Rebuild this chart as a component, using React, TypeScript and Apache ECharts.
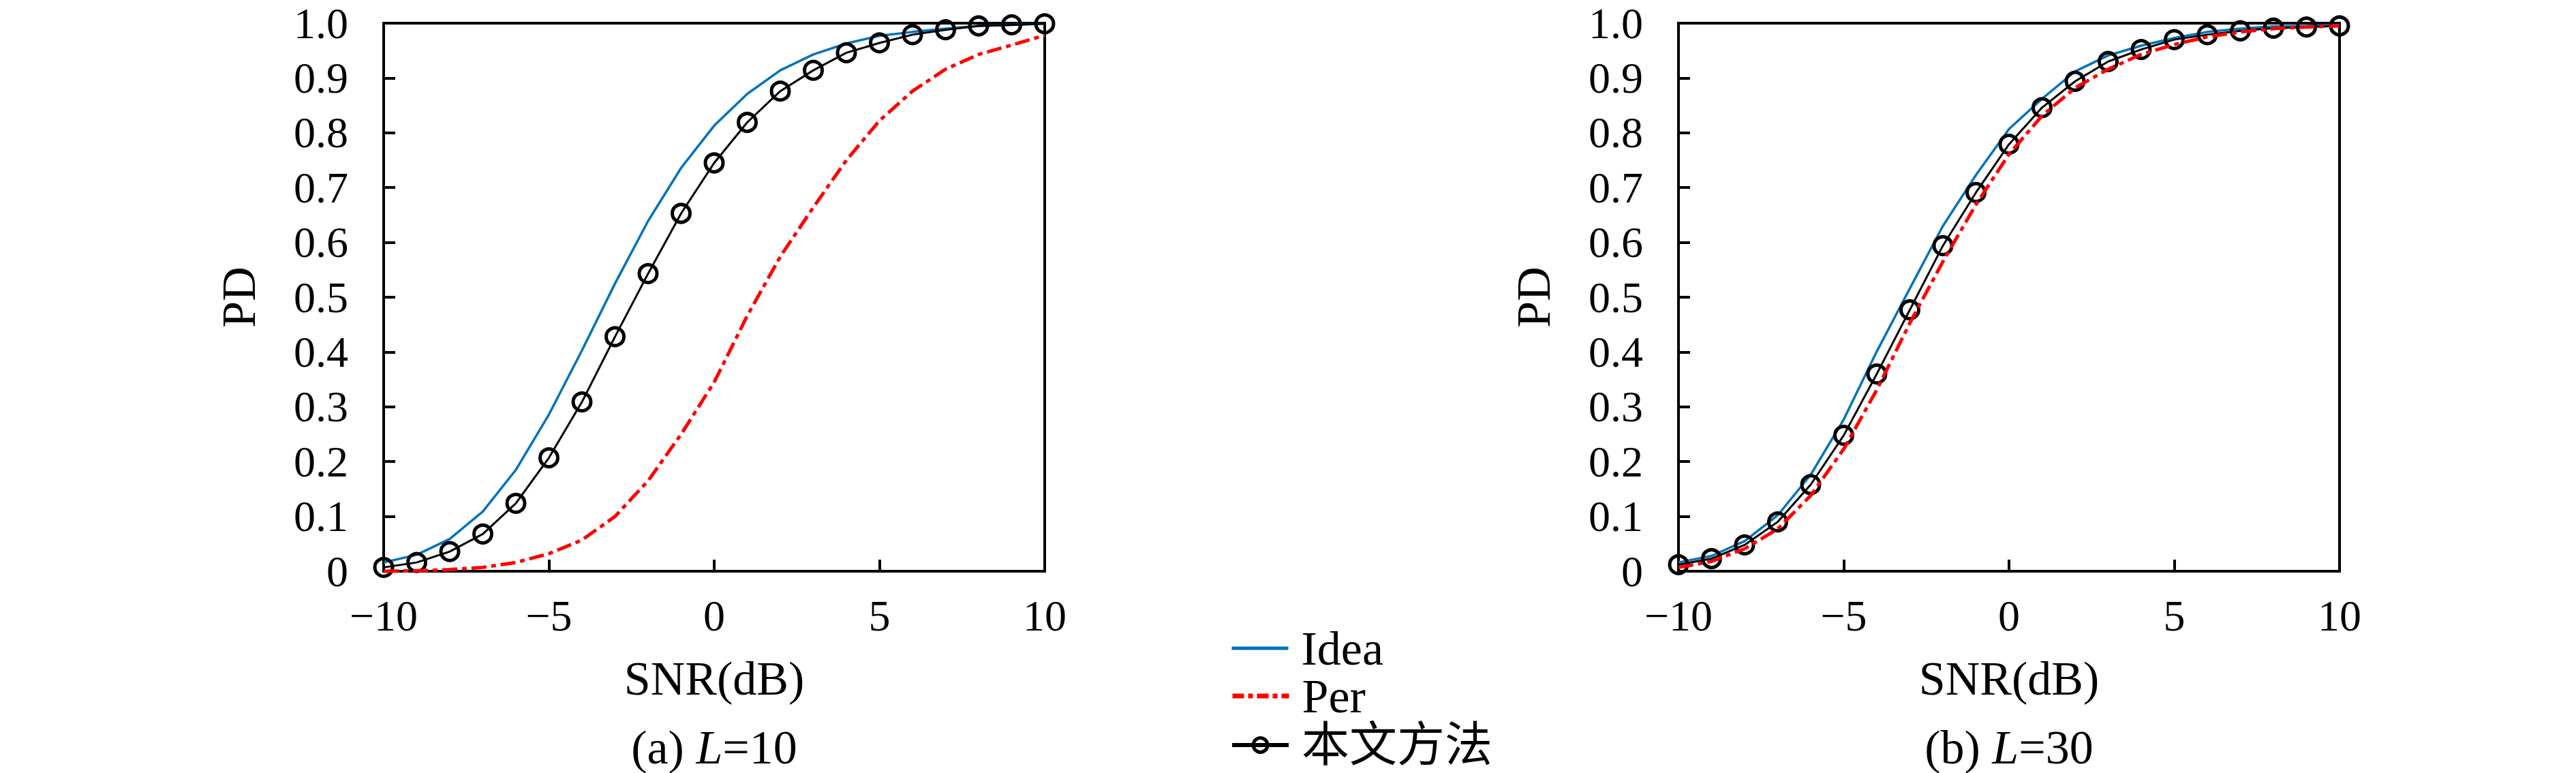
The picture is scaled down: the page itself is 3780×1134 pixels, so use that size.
import React, { useEffect, useRef } from "react";
import * as echarts from "echarts";

const snr = [-10, -9, -8, -7, -6, -5, -4, -3, -2, -1, 0, 1, 2, 3, 4, 5, 6, 7, 8, 9, 10];

const idea10 = [0.016, 0.030, 0.059, 0.109, 0.185, 0.286, 0.403, 0.525, 0.639, 0.736, 0.813, 0.871, 0.914, 0.943, 0.963, 0.977, 0.984, 0.990, 0.995, 0.997, 0.999];
const per10 = [0.000, 0.001, 0.003, 0.007, 0.016, 0.032, 0.057, 0.100, 0.165, 0.250, 0.345, 0.466, 0.574, 0.664, 0.750, 0.822, 0.876, 0.916, 0.943, 0.960, 0.978];
const ours10 = [0.007, 0.016, 0.036, 0.068, 0.124, 0.207, 0.309, 0.428, 0.543, 0.653, 0.745, 0.819, 0.876, 0.914, 0.946, 0.964, 0.979, 0.988, 0.995, 0.997, 0.999];

const idea30 = [0.016, 0.028, 0.055, 0.102, 0.176, 0.277, 0.401, 0.516, 0.630, 0.723, 0.807, 0.862, 0.912, 0.941, 0.959, 0.973, 0.984, 0.990, 0.994, 0.995, 0.997];
const per30 = [0.007, 0.018, 0.041, 0.077, 0.138, 0.223, 0.331, 0.453, 0.565, 0.669, 0.761, 0.831, 0.882, 0.916, 0.943, 0.961, 0.975, 0.984, 0.990, 0.993, 0.995];
const ours30 = [0.012, 0.023, 0.048, 0.090, 0.158, 0.248, 0.360, 0.477, 0.594, 0.691, 0.779, 0.846, 0.894, 0.930, 0.952, 0.970, 0.979, 0.986, 0.991, 0.993, 0.995];

const seriesNames = ["Idea", "Per", "本文方法"];
const captions = ["(a) {i|L}=10", "(b) {i|L}=30"];
const xTitle = "SNR(dB)";
const yTitle = "PD";

const FONT = "'Liberation Serif', 'Noto Sans CJK SC', serif";
const BLUE = "#0072BD";
const RED = "#FF0000";
const TICK_FS = 64;
const TEXT_FS = 70;
const CAP_FS = 70;

const pair = (ys: number[]) => snr.map((x, i) => [x, ys[i]]);

export default function App() {
  const ref = useRef<HTMLDivElement>(null);
  useEffect(() => {
    if (!ref.current) return;
    const chart = echarts.init(ref.current, undefined, { renderer: "svg" });
    const grids = [
      { left: 563, top: 34, width: 970, height: 804 },
      { left: 2463, top: 34, width: 970, height: 804 },
    ];
    const xAxes = grids.map((_, gi) => ({
      type: "value",
      gridIndex: gi,
      min: -10,
      max: 10,
      interval: 5,
      name: xTitle,
      nameLocation: "middle",
      nameGap: 122,
      nameTextStyle: { fontFamily: FONT, fontSize: TEXT_FS, color: "#000" },
      axisLine: { show: true, onZero: false, lineStyle: { color: "#000", width: 4 } },
      axisTick: { show: true, inside: true, length: 17, lineStyle: { color: "#000", width: 4 } },
      axisLabel: {
        fontFamily: FONT,
        fontSize: TICK_FS,
        color: "#000",
        margin: 33,
        formatter: (v: number) => (v < 0 ? "\u2212" + Math.abs(v) : String(v)),
      },
      splitLine: { show: false },
    }));
    const yAxes = grids.map((_, gi) => ({
      type: "value",
      gridIndex: gi,
      min: 0,
      max: 1,
      interval: 0.1,
      name: yTitle,
      nameLocation: "middle",
      nameGap: 178,
      nameRotate: 90,
      nameTextStyle: { fontFamily: FONT, fontSize: TEXT_FS, color: "#000" },
      axisLine: { show: true, onZero: false, lineStyle: { color: "#000", width: 4 } },
      axisTick: { show: true, inside: true, length: 17, lineStyle: { color: "#000", width: 4 } },
      axisLabel: {
        fontFamily: FONT,
        fontSize: TICK_FS,
        color: "#000",
        margin: 52,
        formatter: (v: number) => (Math.abs(v) < 1e-9 ? "0" : v.toFixed(1)),
      },
      splitLine: { show: false },
    }));

    const datasets = [
      { idea: idea10, per: per10, ours: ours10 },
      { idea: idea30, per: per30, ours: ours30 },
    ];
    const series: any[] = [];
    datasets.forEach((d, gi) => {
      series.push({
        name: seriesNames[0],
        type: "line",
        xAxisIndex: gi,
        yAxisIndex: gi,
        data: pair(d.idea),
        symbol: "none",
        clip: false,
        lineStyle: { color: BLUE, width: 3.5 },
        itemStyle: { color: BLUE },
        z: 2,
      });
      series.push({
        name: seriesNames[2],
        type: "line",
        xAxisIndex: gi,
        yAxisIndex: gi,
        data: pair(d.ours),
        symbol: "circle",
        symbolSize: 26,
        clip: false,
        lineStyle: { color: "#000", width: 3 },
        itemStyle: { color: "rgba(255,255,255,0)", borderColor: "#000", borderWidth: 5 },
        z: 3,
      });
      series.push({
        name: seriesNames[1],
        type: "line",
        xAxisIndex: gi,
        yAxisIndex: gi,
        data: pair(d.per),
        symbol: "none",
        clip: false,
        lineStyle: { color: RED, width: 5, type: [22, 7, 7, 7] },
        itemStyle: { color: RED },
        z: 4,
      });
    });

    const capStyle = (t: string) => ({
      text: t,
      font: CAP_FS + "px " + FONT,
      fill: "#000",
      align: "center",
      verticalAlign: "middle",
      rich: { i: { fontStyle: "italic", fontFamily: FONT, fontSize: CAP_FS } },
    });

    const legendItems = [
      { name: seriesNames[0], itemStyle: { color: "rgba(0,0,0,0)", borderWidth: 0 }, lineStyle: { color: BLUE, width: 5 } },
      { name: seriesNames[1], itemStyle: { color: "rgba(0,0,0,0)", borderWidth: 0 }, lineStyle: { color: RED, width: 7, type: [17, 6, 7, 6] } },
      { name: seriesNames[2], itemStyle: { color: "rgba(255,255,255,0)", borderColor: "#000", borderWidth: 5 }, lineStyle: { color: "#000", width: 6 } },
    ];
    const legendRowCenters = [947, 1017, 1089];
    const LEG_H = 62;
    const legends = legendItems.map((it, i) => ({
      orient: "vertical",
      left: 1805,
      top: legendRowCenters[i] - LEG_H / 2,
      padding: 0,
      itemWidth: 83,
      itemHeight: 26,
      textStyle: { fontFamily: FONT, fontSize: TEXT_FS, color: "#000", lineHeight: LEG_H, padding: [0, 0, 0, 14] },
      data: [it],
    }));

    chart.setOption({
      animation: false,
      backgroundColor: "#fff",
      grid: grids.map((g) => ({ ...g, show: true, borderColor: "#000", borderWidth: 4, backgroundColor: "transparent" })),
      xAxis: xAxes,
      yAxis: yAxes,
      legend: legends,
      graphic: [
        { type: "text", x: 1048, y: 1096, style: capStyle(captions[0]) },
        { type: "text", x: 2948, y: 1096, style: capStyle(captions[1]) },
      ],
      series,
    });
    return () => chart.dispose();
  }, []);
  return <div ref={ref} style={{ position: "fixed", left: 0, top: 0, width: 3780, height: 1134 }} />;
}
